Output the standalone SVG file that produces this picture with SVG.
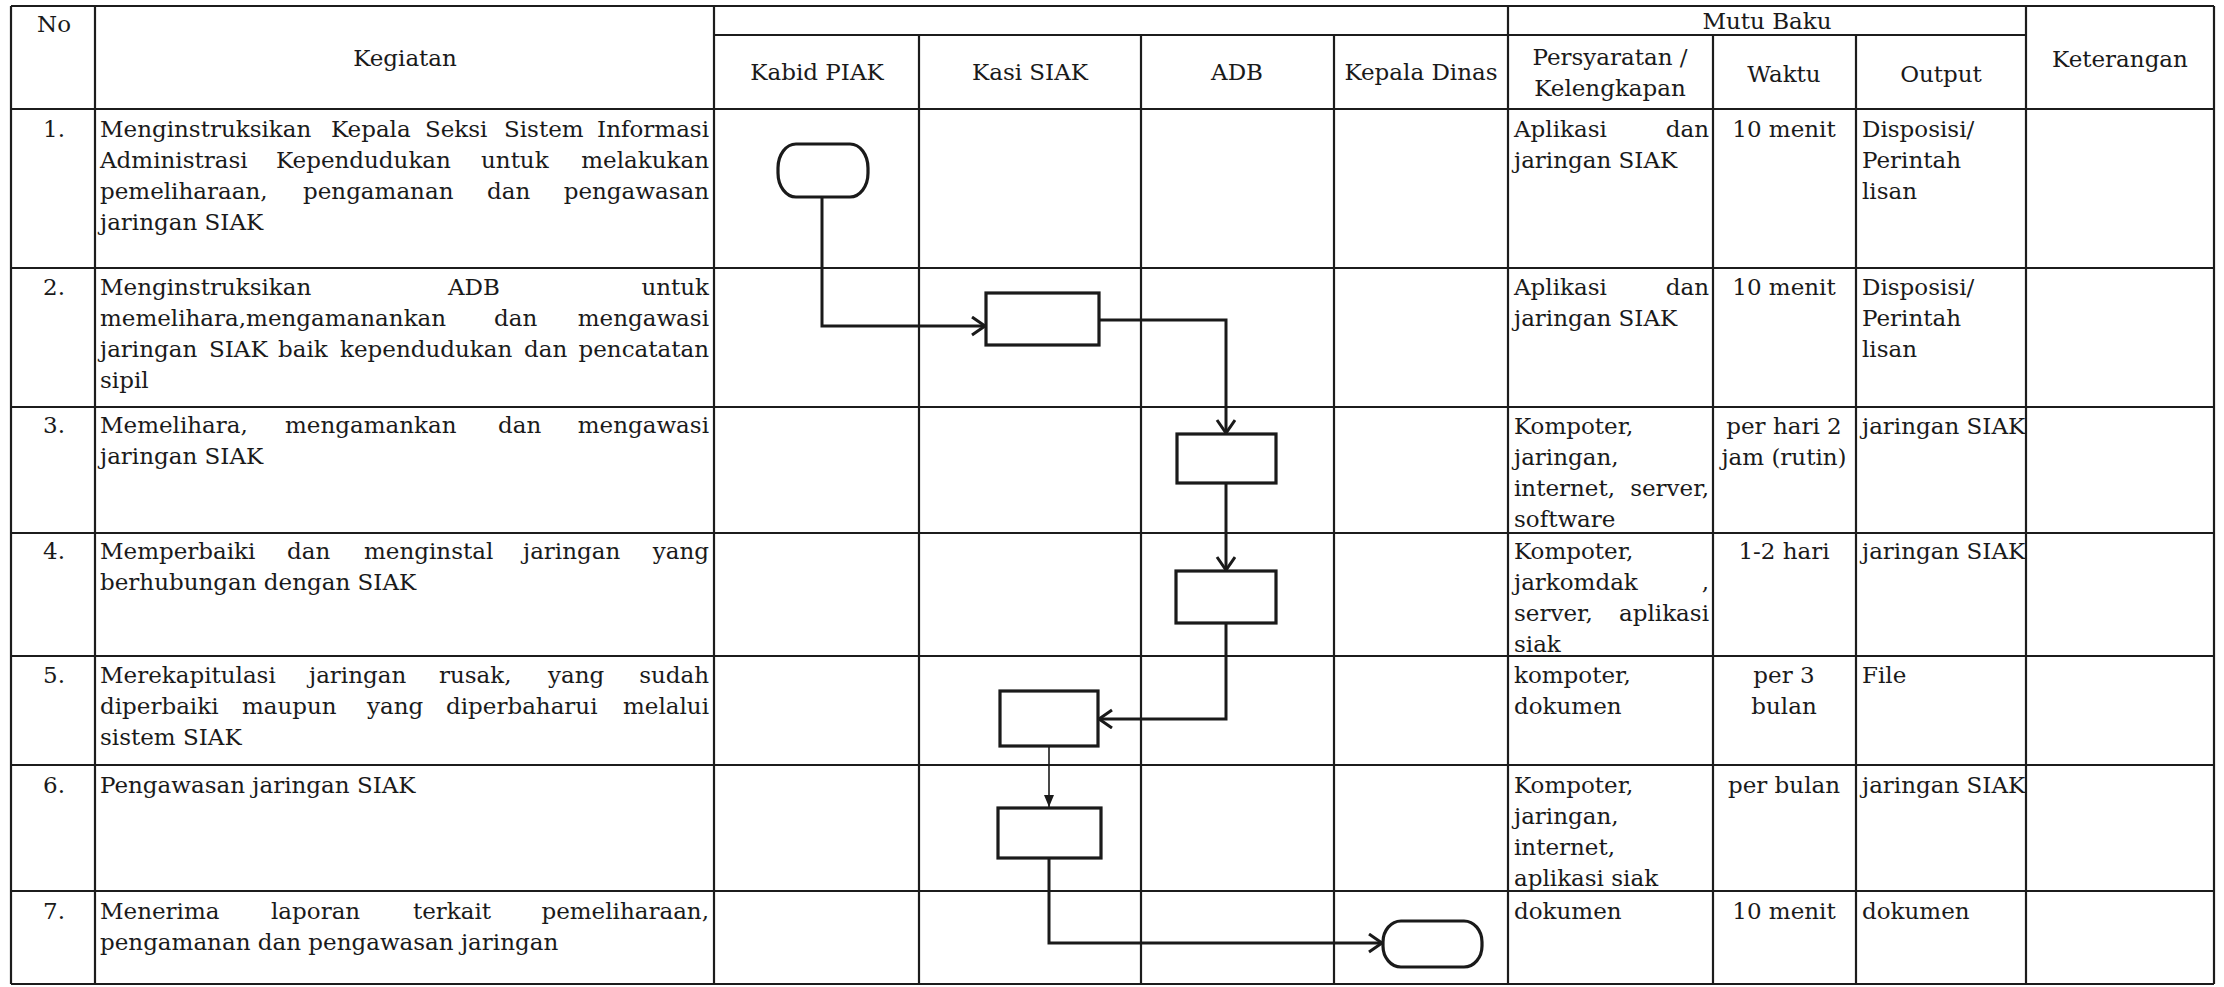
<svg xmlns="http://www.w3.org/2000/svg" width="2224" height="987" viewBox="0 0 2224 987">
<defs>
<style>
.g line{stroke:#1c1c1c;stroke-width:2.2}
.t{font-family:"DejaVu Serif","Liberation Serif",serif;font-size:23px;fill:#1a1a1a}
.e{text-anchor:end}
.m{text-anchor:middle}
.shape{fill:#fff;stroke:#1a1a1a;stroke-width:3.2}
.c{fill:none;stroke:#1a1a1a;stroke-width:3}
.thin{fill:none;stroke:#1a1a1a;stroke-width:1.6}
</style>
<marker id="open" markerUnits="userSpaceOnUse" markerWidth="18" markerHeight="22" refX="15" refY="10" orient="auto">
<path d="M2,1 L15,10 L2,19" fill="none" stroke="#1a1a1a" stroke-width="3"/>
</marker>
<marker id="fill" markerUnits="userSpaceOnUse" markerWidth="14" markerHeight="12" refX="12" refY="5" orient="auto">
<path d="M0,0 L12,5 L0,10 z" fill="#1a1a1a"/>
</marker>
</defs>
<rect width="2224" height="987" fill="#fff"/>
<g id="grid" class="g">
<line x1="11" y1="6" x2="2214" y2="6"/>
<line x1="714" y1="35" x2="2026" y2="35"/>
<line x1="11" y1="109" x2="2214" y2="109"/>
<line x1="11" y1="268" x2="2214" y2="268"/>
<line x1="11" y1="407" x2="2214" y2="407"/>
<line x1="11" y1="533" x2="2214" y2="533"/>
<line x1="11" y1="656" x2="2214" y2="656"/>
<line x1="11" y1="765" x2="2214" y2="765"/>
<line x1="11" y1="891" x2="2214" y2="891"/>
<line x1="11" y1="984" x2="2214" y2="984"/>
<line x1="11" y1="6" x2="11" y2="984"/>
<line x1="95" y1="6" x2="95" y2="984"/>
<line x1="714" y1="6" x2="714" y2="984"/>
<line x1="1508" y1="6" x2="1508" y2="984"/>
<line x1="2026" y1="6" x2="2026" y2="984"/>
<line x1="2214" y1="6" x2="2214" y2="984"/>
<line x1="919" y1="35" x2="919" y2="984"/>
<line x1="1141" y1="35" x2="1141" y2="984"/>
<line x1="1334" y1="35" x2="1334" y2="984"/>
<line x1="1713" y1="35" x2="1713" y2="984"/>
<line x1="1856" y1="35" x2="1856" y2="984"/>
</g>
<g id="header" class="t">
<text class="t m" x="54" y="32">No</text>
<text class="t m" x="405" y="66">Kegiatan</text>
<text class="t m" x="817" y="80">Kabid PIAK</text>
<text class="t m" x="1030" y="80">Kasi SIAK</text>
<text class="t m" x="1237" y="80">ADB</text>
<text class="t m" x="1421" y="80">Kepala Dinas</text>
<text class="t m" x="1767" y="29">Mutu Baku</text>
<text class="t m" x="1610" y="65">Persyaratan /</text>
<text class="t m" x="1610" y="96">Kelengkapan</text>
<text class="t m" x="1784" y="82">Waktu</text>
<text class="t m" x="1941" y="82">Output</text>
<text class="t m" x="2120" y="67">Keterangan</text>
</g>
<g id="row1">
<text class="t m" x="54" y="137">1.</text>
<text class="t" y="137"><tspan x="100">Menginstruksikan</tspan><tspan x="331">Kepala</tspan><tspan x="425">Seksi</tspan><tspan x="504">Sistem</tspan></text>
<text class="t e" x="709" y="137">Informasi</text>
<text class="t" y="168"><tspan x="100">Administrasi</tspan><tspan x="276">Kependudukan</tspan><tspan x="481">untuk</tspan></text>
<text class="t e" x="709" y="168">melakukan</text>
<text class="t" y="199"><tspan x="100">pemeliharaan,</tspan><tspan x="303">pengamanan</tspan><tspan x="487">dan</tspan></text>
<text class="t e" x="709" y="199">pengawasan</text>
<text class="t" x="100" y="230">jaringan SIAK</text>
<text class="t" x="1514" y="137">Aplikasi</text>
<text class="t e" x="1709" y="137">dan</text>
<text class="t" x="1514" y="168">jaringan SIAK</text>
<text class="t m" x="1784" y="137">10 menit</text>
<text class="t" x="1862" y="137">Disposisi/</text>
<text class="t" x="1862" y="168">Perintah</text>
<text class="t" x="1862" y="199">lisan</text>
</g>
<g id="row2">
<text class="t m" x="54" y="295">2.</text>
<text class="t" y="295"><tspan x="100">Menginstruksikan</tspan><tspan x="448">ADB</tspan></text>
<text class="t e" x="709" y="295">untuk</text>
<text class="t" y="326"><tspan x="100">memelihara,mengamanankan</tspan><tspan x="494">dan</tspan></text>
<text class="t e" x="709" y="326">mengawasi</text>
<text class="t" y="357"><tspan x="100">jaringan</tspan><tspan x="209">SIAK</tspan><tspan x="278">baik</tspan><tspan x="340">kependudukan</tspan><tspan x="524">dan</tspan></text>
<text class="t e" x="709" y="357">pencatatan</text>
<text class="t" x="100" y="388">sipil</text>
<text class="t" x="1514" y="295">Aplikasi</text>
<text class="t e" x="1709" y="295">dan</text>
<text class="t" x="1514" y="326">jaringan SIAK</text>
<text class="t m" x="1784" y="295">10 menit</text>
<text class="t" x="1862" y="295">Disposisi/</text>
<text class="t" x="1862" y="326">Perintah</text>
<text class="t" x="1862" y="357">lisan</text>
</g>
<g id="row3">
<text class="t m" x="54" y="433">3.</text>
<text class="t" y="433"><tspan x="100">Memelihara,</tspan><tspan x="285">mengamankan</tspan><tspan x="498">dan</tspan></text>
<text class="t e" x="709" y="433">mengawasi</text>
<text class="t" x="100" y="464">jaringan SIAK</text>
<text class="t" x="1514" y="434">Kompoter,</text>
<text class="t" x="1514" y="465">jaringan,</text>
<text class="t" x="1514" y="496">internet,</text>
<text class="t e" x="1709" y="496">server,</text>
<text class="t" x="1514" y="527">software</text>
<text class="t m" x="1784" y="434">per hari 2</text>
<text class="t m" x="1784" y="465">jam (rutin)</text>
<text class="t" x="1862" y="434">jaringan SIAK</text>
</g>
<g id="row4">
<text class="t m" x="54" y="559">4.</text>
<text class="t" y="559"><tspan x="100">Memperbaiki</tspan><tspan x="287">dan</tspan><tspan x="364">menginstal</tspan><tspan x="523">jaringan</tspan></text>
<text class="t e" x="709" y="559">yang</text>
<text class="t" x="100" y="590">berhubungan dengan SIAK</text>
<text class="t" x="1514" y="559">Kompoter,</text>
<text class="t" x="1514" y="590">jarkomdak</text>
<text class="t e" x="1709" y="590">,</text>
<text class="t" x="1514" y="621">server,</text>
<text class="t e" x="1709" y="621">aplikasi</text>
<text class="t" x="1514" y="652">siak</text>
<text class="t m" x="1784" y="559">1-2 hari</text>
<text class="t" x="1862" y="559">jaringan SIAK</text>
</g>
<g id="row5">
<text class="t m" x="54" y="683">5.</text>
<text class="t" y="683"><tspan x="100">Merekapitulasi</tspan><tspan x="309">jaringan</tspan><tspan x="439">rusak,</tspan><tspan x="548">yang</tspan></text>
<text class="t e" x="709" y="683">sudah</text>
<text class="t" y="714"><tspan x="100">diperbaiki</tspan><tspan x="242">maupun</tspan><tspan x="367">yang</tspan><tspan x="446">diperbaharui</tspan></text>
<text class="t e" x="709" y="714">melalui</text>
<text class="t" x="100" y="745">sistem SIAK</text>
<text class="t" x="1514" y="683">kompoter,</text>
<text class="t" x="1514" y="714">dokumen</text>
<text class="t m" x="1784" y="683">per 3</text>
<text class="t m" x="1784" y="714">bulan</text>
<text class="t" x="1862" y="683">File</text>
</g>
<g id="row6">
<text class="t m" x="54" y="793">6.</text>
<text class="t" x="100" y="793">Pengawasan jaringan SIAK</text>
<text class="t" x="1514" y="793">Kompoter,</text>
<text class="t" x="1514" y="824">jaringan,</text>
<text class="t" x="1514" y="855">internet,</text>
<text class="t" x="1514" y="886">aplikasi siak</text>
<text class="t m" x="1784" y="793">per bulan</text>
<text class="t" x="1862" y="793">jaringan SIAK</text>
</g>
<g id="row7">
<text class="t m" x="54" y="919">7.</text>
<text class="t" y="919"><tspan x="100">Menerima</tspan><tspan x="271">laporan</tspan><tspan x="413">terkait</tspan></text>
<text class="t e" x="709" y="919">pemeliharaan,</text>
<text class="t" x="100" y="950">pengamanan dan pengawasan jaringan</text>
<text class="t" x="1514" y="919">dokumen</text>
<text class="t m" x="1784" y="919">10 menit</text>
<text class="t" x="1862" y="919">dokumen</text>
</g>
<g id="connectors">
<path class="c" d="M822,197 V326 H985" marker-end="url(#open)"/>
<path class="c" d="M1099,320 H1226 V433" marker-end="url(#open)"/>
<path class="c" d="M1226,483 V570" marker-end="url(#open)"/>
<path class="c" d="M1226,623 V719 H1099" marker-end="url(#open)"/>
<path class="thin" d="M1049,746 V807" marker-end="url(#fill)"/>
<path class="c" d="M1049,858 V943 H1382" marker-end="url(#open)"/>
</g>
<g id="start"><rect class="shape" x="778" y="144" width="90" height="53" rx="18" ry="24"/></g>
<g id="task-kasi-2"><rect class="shape" x="986" y="293" width="113" height="52"/></g>
<g id="task-adb-3"><rect class="shape" x="1177" y="434" width="99" height="49"/></g>
<g id="task-adb-4"><rect class="shape" x="1176" y="571" width="100" height="52"/></g>
<g id="task-kasi-5"><rect class="shape" x="1000" y="691" width="98" height="55"/></g>
<g id="task-kasi-6"><rect class="shape" x="998" y="808" width="103" height="50"/></g>
<g id="end"><rect class="shape" x="1383" y="921" width="99" height="46" rx="18" ry="21"/></g>
</svg>
